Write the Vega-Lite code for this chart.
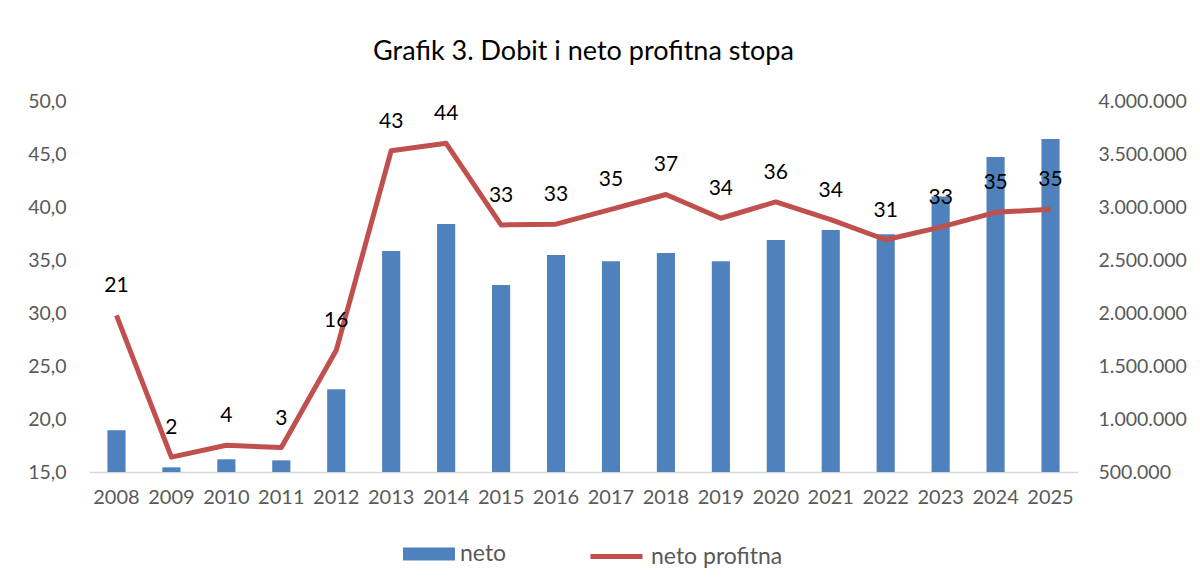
{
  "$schema": "https://vega.github.io/schema/vega-lite/v6.json",
  "width": 989,
  "height": 371,
  "padding": {"left": 27, "top": 38, "right": 10, "bottom": 10},
  "background": "white",
  "config": {
    "locale": {"number": {"decimal": ",", "thousands": ".", "grouping": [3], "currency": ["", " €"]}},
    "font": "Lato",
    "view": {"stroke": null}
  },
  "title": {
    "text": "Grafik 3. Dobit i neto profitna stopa",
    "fontSize": 27,
    "fontWeight": "normal",
    "font": "Lato",
    "color": "#000000",
    "offset": 25,
    "anchor": "middle"
  },
  "data": {
    "values": [
      {"year": "2008", "neto": 894000, "stopa": 21.1},
      {"year": "2009", "neto": 544000, "stopa": 2.0},
      {"year": "2010", "neto": 620000, "stopa": 3.6},
      {"year": "2011", "neto": 610000, "stopa": 3.3},
      {"year": "2012", "neto": 1281000, "stopa": 16.4},
      {"year": "2013", "neto": 2584000, "stopa": 43.3},
      {"year": "2014", "neto": 2839000, "stopa": 44.3},
      {"year": "2015", "neto": 2263000, "stopa": 33.3},
      {"year": "2016", "neto": 2546000, "stopa": 33.4},
      {"year": "2017", "neto": 2489000, "stopa": 35.4},
      {"year": "2018", "neto": 2565000, "stopa": 37.4},
      {"year": "2019", "neto": 2489000, "stopa": 34.2},
      {"year": "2020", "neto": 2688000, "stopa": 36.4},
      {"year": "2021", "neto": 2782000, "stopa": 34.0},
      {"year": "2022", "neto": 2744000, "stopa": 31.3},
      {"year": "2023", "neto": 3100000, "stopa": 33.0},
      {"year": "2024", "neto": 3471000, "stopa": 35.0},
      {"year": "2025", "neto": 3641000, "stopa": 35.4}
    ]
  },
  "encoding": {
    "x": {
      "field": "year",
      "type": "nominal",
      "sort": null,
      "scale": {"paddingInner": 0, "paddingOuter": 0},
      "axis": {
        "title": null,
        "labelAngle": 0,
        "ticks": false,
        "labelPadding": 15,
        "labelFontSize": 20,
        "labelColor": "#595959",
        "domainColor": "#D9D9D9",
        "domainWidth": 1.5,
        "grid": false
      }
    }
  },
  "layer": [
    {
      "mark": {"type": "bar", "width": {"band": 0.33}},
      "encoding": {
        "y": {
          "field": "neto",
          "type": "quantitative",
          "scale": {"domain": [500000, 4000000], "zero": false, "nice": false},
          "axis": {
            "orient": "right",
            "title": null,
            "format": ",.0f",
            "values": [500000, 1000000, 1500000, 2000000, 2500000, 3000000, 3500000, 4000000],
            "grid": false,
            "domain": false,
            "ticks": false,
            "labelPadding": 20,
            "labelFontSize": 19.5,
            "labelColor": "#595959"
          }
        },
        "y2": {"datum": 500000},
        "fill": {
          "datum": "neto",
          "type": "nominal",
          "scale": {"domain": ["neto"], "range": ["#4F81BD"]},
          "legend": {
            "orient": "none",
            "legendX": 314,
            "legendY": 427,
            "title": null,
            "padding": 0,
            "symbolType": "M-1,-0.25H1V0.25H-1Z",
            "symbolSize": 2704,
            "symbolStrokeWidth": 0,
            "symbolOpacity": 1,
            "labelFontSize": 23,
            "labelColor": "#595959",
            "labelOffset": 5
          }
        }
      }
    },
    {
      "mark": {"type": "rule", "opacity": 0},
      "encoding": {
        "y": {
          "datum": 15,
          "type": "quantitative",
          "scale": {"domain": [15, 50], "zero": false, "nice": false},
          "axis": {
            "orient": "left",
            "title": null,
            "format": ".1f",
            "values": [15, 20, 25, 30, 35, 40, 45, 50],
            "grid": false,
            "domain": false,
            "ticks": false,
            "labelPadding": 23,
            "labelFontSize": 19.5,
            "labelColor": "#595959"
          }
        }
      }
    },
    {
      "encoding": {
        "y": {
          "field": "stopa",
          "type": "quantitative",
          "scale": {"domain": [0, 50], "nice": false},
          "axis": null
        }
      },
      "layer": [
        {
          "mark": {"type": "line", "strokeWidth": 5, "strokeJoin": "round", "strokeCap": "butt"},
          "encoding": {
            "stroke": {
              "datum": "neto profitna",
              "type": "nominal",
              "scale": {"domain": ["neto profitna"], "range": ["#C0504D"]},
              "legend": {
                "orient": "none",
                "legendX": 499,
                "legendY": 427,
                "title": null,
                "padding": 0,
                "symbolType": "stroke",
                "symbolSize": 2704,
                "symbolStrokeWidth": 5,
                "labelFontSize": 23,
                "labelColor": "#595959",
                "labelOffset": 6
              }
            }
          }
        },
        {
          "mark": {"type": "text", "dy": -29, "fontSize": 21, "color": "#000000", "baseline": "middle"},
          "encoding": {
            "text": {"field": "stopa", "type": "quantitative", "format": ".0f"}
          }
        }
      ]
    }
  ],
  "resolve": {"scale": {"y": "independent"}}
}
